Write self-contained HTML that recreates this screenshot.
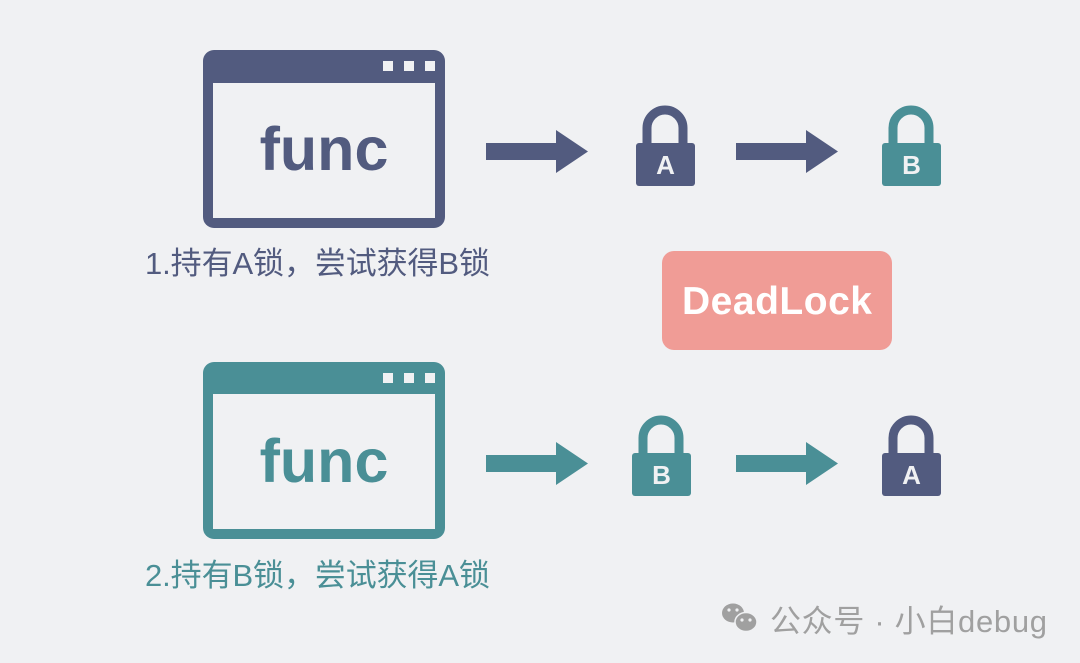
<!DOCTYPE html>
<html><head><meta charset="utf-8"><style>
html,body{margin:0;padding:0;background:#f0f1f3;}
svg{display:block}
</style></head><body>
<svg width="1080" height="663" viewBox="0 0 1080 663" xmlns="http://www.w3.org/2000/svg">
<rect width="1080" height="663" fill="#f0f1f3"/>
<!-- top window -->
<rect x="203" y="50" width="242" height="178" rx="11" fill="#525b7f"/>
<rect x="213" y="83" width="222" height="135" fill="#f0f1f3"/>
<g fill="#f0f1f3"><rect x="383" y="61" width="10" height="10"/><rect x="404" y="61" width="10" height="10"/><rect x="425" y="61" width="10" height="10"/></g>
<text x="324" y="170" text-anchor="middle" font-family="Liberation Sans, sans-serif" font-weight="bold" font-size="61" fill="#525b7f">func</text>
<text x="145" y="274" textLength="345" font-family="Liberation Sans, 'Noto Sans CJK SC', sans-serif" font-size="31" fill="#525b7f">1.持有A锁，尝试获得B锁</text>

<!-- bottom window -->
<rect x="203" y="362" width="242" height="177" rx="11" fill="#4a8f96"/>
<rect x="213" y="394" width="222" height="135" fill="#f0f1f3"/>
<g fill="#f0f1f3"><rect x="383" y="373" width="10" height="10"/><rect x="404" y="373" width="10" height="10"/><rect x="425" y="373" width="10" height="10"/></g>
<text x="324" y="482" text-anchor="middle" font-family="Liberation Sans, sans-serif" font-weight="bold" font-size="61" fill="#4a8f96">func</text>
<text x="145" y="586" textLength="345" font-family="Liberation Sans, 'Noto Sans CJK SC', sans-serif" font-size="31" fill="#4a8f96">2.持有B锁，尝试获得A锁</text>

<!-- arrows -->
<path d="M486 143 H556 V130 L588 151.5 L556 173 V160 H486 Z" fill="#525b7f"/>
<path d="M736 143 H806 V130 L838 151.5 L806 173 V160 H736 Z" fill="#525b7f"/>
<path d="M486 455 H556 V442 L588 463.5 L556 485 V472 H486 Z" fill="#4a8f96"/>
<path d="M736 455 H806 V442 L838 463.5 L806 485 V472 H736 Z" fill="#4a8f96"/>

<!-- locks -->
<g font-family="Liberation Sans, sans-serif" font-weight="bold" font-size="26" text-anchor="middle" fill="#f0f1f3">
  <path d="M647 145 V128 A18 18 0 0 1 683 128 V145" fill="none" stroke="#525b7f" stroke-width="9"/>
  <rect x="636" y="143" width="59" height="43" rx="3" fill="#525b7f"/>
  <text x="665.5" y="174">A</text>
  <path d="M893 145 V128 A18 18 0 0 1 929 128 V145" fill="none" stroke="#4a8f96" stroke-width="9"/>
  <rect x="882" y="143" width="59" height="43" rx="3" fill="#4a8f96"/>
  <text x="911.5" y="174">B</text>
  <path d="M643 455 V438 A18 18 0 0 1 679 438 V455" fill="none" stroke="#4a8f96" stroke-width="9"/>
  <rect x="632" y="453" width="59" height="43" rx="3" fill="#4a8f96"/>
  <text x="661.5" y="484">B</text>
  <path d="M893 455 V438 A18 18 0 0 1 929 438 V455" fill="none" stroke="#525b7f" stroke-width="9"/>
  <rect x="882" y="453" width="59" height="43" rx="3" fill="#525b7f"/>
  <text x="911.5" y="484">A</text>
</g>

<!-- DeadLock -->
<rect x="662" y="251" width="230" height="99" rx="12" fill="#f09c96"/>
<text x="777" y="314" text-anchor="middle" textLength="190" font-family="Liberation Sans, sans-serif" font-weight="bold" font-size="39" fill="#ffffff">DeadLock</text>

<!-- watermark -->
<g fill="#a0a0a0">
  <ellipse cx="733" cy="613" rx="11" ry="9.5"/>
  <ellipse cx="746" cy="622" rx="11" ry="9.5" stroke="#f0f1f3" stroke-width="1.5"/>
</g>
<g fill="#f0f1f3"><circle cx="729" cy="610" r="1.6"/><circle cx="737" cy="610" r="1.6"/><circle cx="742" cy="620" r="1.6"/><circle cx="750" cy="620" r="1.6"/></g>
<text x="770" y="632" textLength="277" font-family="Liberation Sans, 'Noto Sans CJK SC', sans-serif" font-size="31" fill="#a0a0a0">公众号 · 小白debug</text>
</svg>
</body></html>
